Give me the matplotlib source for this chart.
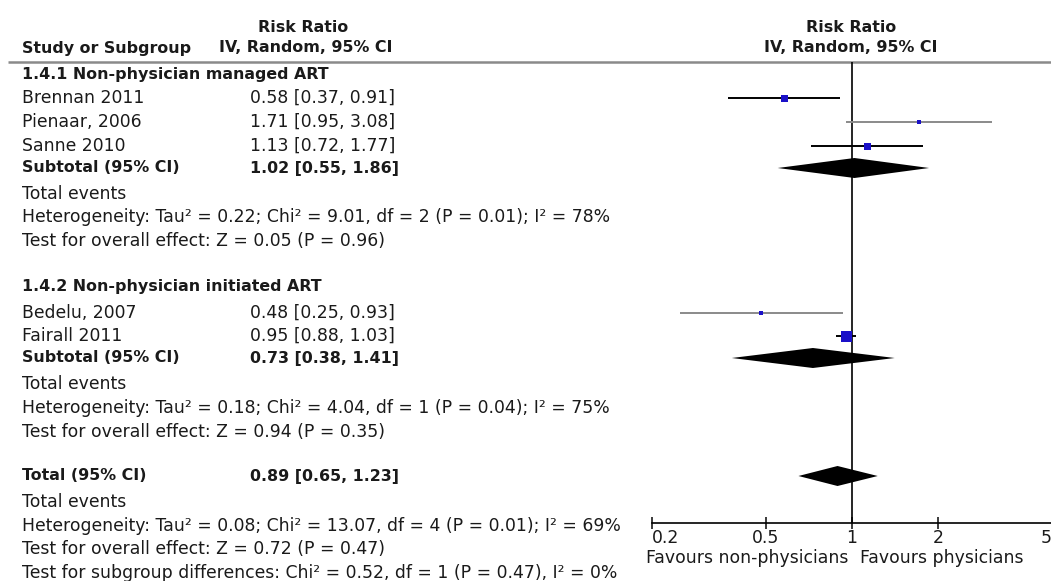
import matplotlib
matplotlib.use("Agg")
import matplotlib.pyplot as plt
import numpy as np

# study level data (risk ratio, 95% CI)
studies = ["Brennan 2011", "Pienaar, 2006", "Sanne 2010", "Bedelu, 2007", "Fairall 2011"]
rr = [0.58, 1.71, 1.13, 0.48, 0.95]
ci_lo = [0.37, 0.95, 0.72, 0.25, 0.88]
ci_hi = [0.91, 3.08, 1.77, 0.93, 1.03]
box_px = [7, 5, 7, 4, 11]  # square sizes (weights)
line_col = ["black", "#8a8a8a", "black", "#8a8a8a", "black"]

# pooled estimates: subgroup 1, subgroup 2, total
pooled = [1.02, 0.73, 0.89]
pooled_lo = [0.55, 0.38, 0.65]
pooled_hi = [1.86, 1.41, 1.23]

ticks = [0.2, 0.5, 1, 2, 5]
tick_labels = ["0.2", "0.5", "1", "2", "5"]

W, H = 1051, 581
fig = plt.figure(figsize=(W / 100, H / 100), dpi=100)
plt.rcParams["font.family"] = ["DejaVu Sans"]
FS = 12.4   # regular text
FSB = 11.4  # bold text (DejaVu bold runs wide)
TXT = "#1a1a1a"

# text layer in pixel coordinates
tx = fig.add_axes([0, 0, 1, 1])
tx.set_xlim(0, W)
tx.set_ylim(H, 0)
tx.axis("off")

# rows: (label, bold, y)
study_y = [98, 122, 146, 313, 336]
sub_y = [168, 358, 476]
rows = [
    ("1.4.1 Non-physician managed ART", True, 74),
    ("Subtotal (95% CI)", True, sub_y[0]),
    ("Total events", False, 194),
    ("Heterogeneity: Tau² = 0.22; Chi² = 9.01, df = 2 (P = 0.01); I² = 78%", False, 217),
    ("Test for overall effect: Z = 0.05 (P = 0.96)", False, 241),
    ("1.4.2 Non-physician initiated ART", True, 287),
    ("Subtotal (95% CI)", True, sub_y[1]),
    ("Total events", False, 384),
    ("Heterogeneity: Tau² = 0.18; Chi² = 4.04, df = 1 (P = 0.04); I² = 75%", False, 408),
    ("Test for overall effect: Z = 0.94 (P = 0.35)", False, 432),
    ("Total (95% CI)", True, sub_y[2]),
    ("Total events", False, 502),
    ("Heterogeneity: Tau² = 0.08; Chi² = 13.07, df = 4 (P = 0.01); I² = 69%", False, 526),
    ("Test for overall effect: Z = 0.72 (P = 0.47)", False, 549),
    ("Test for subgroup differences: Chi² = 0.52, df = 1 (P = 0.47), I² = 0%", False, 573),
]

for label, bold, y in rows:
    tx.text(22, y, label, fontsize=FSB if bold else FS,
            fontweight="bold" if bold else "normal",
            color=TXT, va="center", ha="left")

for i, (s, y) in enumerate(zip(studies, study_y)):
    tx.text(22, y, s, fontsize=FS, color=TXT, va="center")
    tx.text(250, y, f"{rr[i]:.2f} [{ci_lo[i]:.2f}, {ci_hi[i]:.2f}]", fontsize=FS,
            color=TXT, va="center")
for i, y in enumerate(sub_y):
    tx.text(250, y, f"{pooled[i]:.2f} [{pooled_lo[i]:.2f}, {pooled_hi[i]:.2f}]",
            fontsize=FSB, fontweight="bold", color=TXT, va="center")

# headers
hdr = dict(fontsize=FSB, fontweight="bold", color=TXT, va="center")
tx.text(303, 27, "Risk Ratio", ha="center", **hdr)
tx.text(306, 48, "IV, Random, 95% CI", ha="center", **hdr)
tx.text(22, 48, "Study or Subgroup", ha="left", **hdr)
tx.text(851, 27, "Risk Ratio", ha="center", **hdr)
tx.text(851, 48, "IV, Random, 95% CI", ha="center", **hdr)
tx.plot([8, W], [62, 62], color="#8a8a8a", lw=1.8, solid_capstyle="butt")

# forest plot axes, log scale
x0, x1 = 652, 1052
y_top, y_axis = 62, 523
ax = fig.add_axes([x0 / W, (H - y_axis) / H, (x1 - x0) / W, (y_axis - y_top) / H])
ax.set_xscale("log")
ax.set_xlim(0.2, 5)
ax.set_ylim(y_axis, y_top)
ax.patch.set_alpha(0)
for sp in ["top", "left", "right"]:
    ax.spines[sp].set_visible(False)
ax.spines["bottom"].set_linewidth(1.2)
ax.set_yticks([])
ax.set_xticks(ticks)
ax.set_xticklabels(tick_labels)
ax.minorticks_off()
ax.tick_params(axis="x", direction="inout", length=9, width=1.2, labelsize=FS,
               colors=TXT, pad=0)
ax.get_xticklabels()[0].set_horizontalalignment("left")
ax.get_xticklabels()[-1].set_horizontalalignment("right")

ax.axvline(1, color="black", lw=1.2)

for i, y in enumerate(study_y):
    ax.plot([ci_lo[i], ci_hi[i]], [y, y], color=line_col[i], lw=1.4, solid_capstyle="butt")
    ax.plot(rr[i], y, marker="s", color="#1a10c8", markersize=box_px[i] * 0.72,
            markeredgewidth=0, linestyle="none")

half = 10
for i, y in enumerate(sub_y):
    ax.fill([pooled_lo[i], pooled[i], pooled_hi[i], pooled[i]],
            [y, y - half, y, y + half], color="black", lw=0)

tx.text(848, 558, "Favours non-physicians", fontsize=FS, color=TXT, ha="right", va="center")
tx.text(860, 558, "Favours physicians", fontsize=FS, color=TXT, ha="left", va="center")

fig.savefig("out.png", dpi=100)
